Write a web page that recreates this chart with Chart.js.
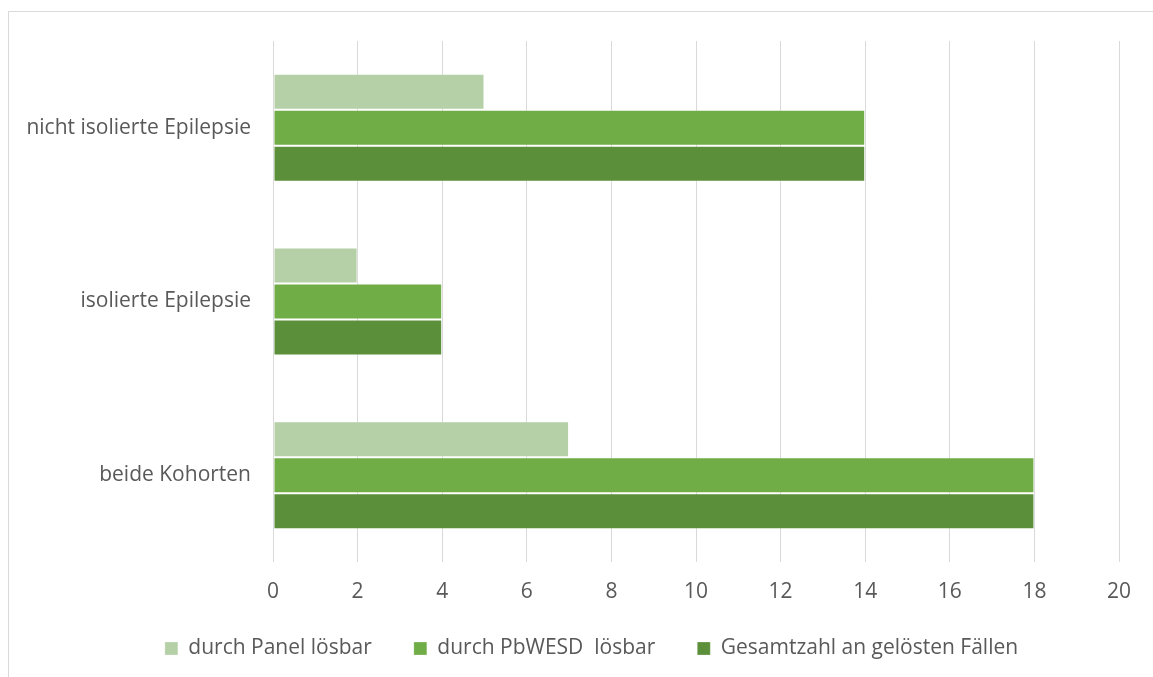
<!DOCTYPE html>
<html lang="de">
<head>
<meta charset="utf-8">
<title>Gelöste Fälle</title>
<script src="https://cdn.jsdelivr.net/npm/chart.js@4/dist/chart.umd.min.js"></script>
<style>
  html, body { margin: 0; padding: 0; background: #fff; overflow: hidden; }
  #wrap { position: relative; width: 1153px; height: 677px; }
  #frame {
    position: absolute; left: 8px; top: 11px; width: 1200px; height: 700px;
    border-top: 1px solid #d9d9d9; border-left: 1px solid #d9d9d9;
    pointer-events: none;
  }
  canvas { position: absolute; left: 0; top: 0; }
</style>
</head>
<body>
<div id="wrap">
  <canvas id="solvedChart" width="1153" height="677"></canvas>
  <div id="frame"></div>
</div>
<script>
'use strict'
var cohorts = ['nicht isolierte Epilepsie', 'isolierte Epilepsie', 'beide Kohorten'];
var seriesNames = ['durch Panel lösbar', 'durch PbWESD  lösbar', 'Gesamtzahl an gelösten Fällen'];
var panelSolved = [5, 2, 7];
var wesSolved = [14, 4, 18];
var totalSolved = [14, 4, 18];
var seriesColors = ['#b5cfa7', '#70ad47', '#5b8f3a'];

var textColor = '#595959';
var fontFamily = "'Open Sans', 'Noto Sans', sans-serif";

// legend sits a bit higher and further right than the default box
var legendOffset = { x: 32, y: -8 };
var nudgeLegend = {
    id: 'nudgeLegend',
    afterLayout: function(chart) {
        var lg = chart.legend;
        lg.left += legendOffset.x;
        lg.right += legendOffset.x;
        lg.top += legendOffset.y;
        lg.bottom += legendOffset.y;
    }
};

var databar = {
    labels: cohorts,
    datasets: [panelSolved, wesSolved, totalSolved].map(function(values, i) {
        return {
            label: seriesNames[i],
            data: values,
            backgroundColor: seriesColors[i],
            borderColor: 'rgba(255,255,255,0.25)',
            borderWidth: 1,
            borderSkipped: false,
            categoryPercentage: 0.622,
            barPercentage: 1
        };
    })
};

var optionbar = {
    indexAxis: 'y',
    responsive: false,
    animation: false,
    layout: {
        padding: { left: 0, right: 34, top: 41, bottom: 0 }
    },
    plugins: {
        tooltip: { enabled: false },
        legend: {
            display: true,
            position: 'bottom',
            labels: {
                color: textColor,
                font: { family: fontFamily, size: 21 },
                boxWidth: 13,
                boxHeight: 13,
                padding: 42
            }
        }
    },
    scales: {
        x: {
            min: 0,
            max: 20,
            ticks: {
                stepSize: 2,
                color: textColor,
                font: { family: fontFamily, size: 21 },
                padding: 17
            },
            grid: {
                color: '#d9d9d9',
                lineWidth: 1,
                drawTicks: false
            },
            border: { display: false },
            afterFit: function(scale) { scale.height = 42; }
        },
        y: {
            ticks: {
                color: textColor,
                font: { family: fontFamily, size: 21 },
                padding: 22
            },
            grid: { display: false, drawTicks: false },
            border: { display: false },
            afterFit: function(scale) { scale.width = 273; }
        }
    }
};

var ctx = document.getElementById('solvedChart');
var solvedChart = new Chart(ctx, {
    type: 'bar',
    data: databar,
    options: optionbar,
    plugins: [nudgeLegend]
});
</script>
</body>
</html>
